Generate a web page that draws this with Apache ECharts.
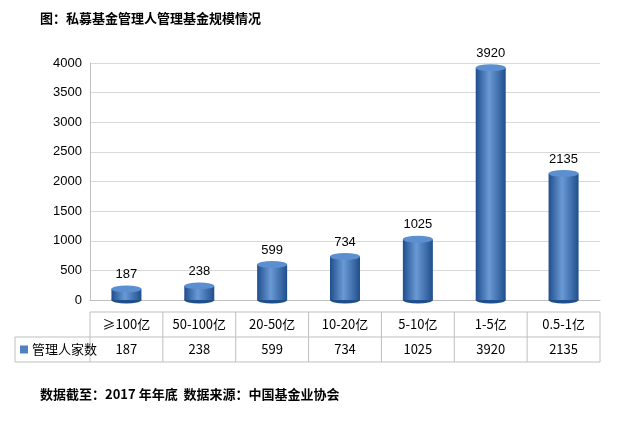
<!DOCTYPE html>
<html><head><meta charset="utf-8">
<script src="https://cdn.jsdelivr.net/npm/echarts@6/dist/echarts.min.js"></script>
<style>html,body{margin:0;padding:0;background:#fff}#c{width:640px;height:424px}</style>
</head><body><div id="c"></div>
<script>
var categories=['≥100亿','50-100亿','20-50亿','10-20亿','5-10亿','1-5亿','0.5-1亿'];
var seriesName='管理人家数';
var values=[187,238,599,734,1025,3920,2135];
var title='图：私募基金管理人管理基金规模情况';
var note='数据截至：2017 年年底  数据来源：中国基金业协会';
var chart=echarts.init(document.getElementById('c'));
var L=90,R=600,n=categories.length,cw=(R-L)/n,t1=312,t2=337,t3=362;
var g=[];
var ls={stroke:'#bfbfbf',lineWidth:1};
g.push({type:'line',shape:{x1:L,y1:t1,x2:R,y2:t1},style:ls});
g.push({type:'line',shape:{x1:15,y1:t2,x2:R,y2:t2},style:ls});
g.push({type:'line',shape:{x1:15,y1:t3,x2:R,y2:t3},style:ls});
g.push({type:'line',shape:{x1:15,y1:t2,x2:15,y2:t3},style:ls});
for(var i=0;i<=n;i++){g.push({type:'line',shape:{x1:L+i*cw,y1:t1,x2:L+i*cw,y2:t3},style:ls});}
categories.forEach(function(c,i){
 g.push({type:'text',x:L+(i+0.5)*cw,y:(t1+t2)/2,style:{text:c,align:'center',verticalAlign:'middle',font:'13px "Noto Sans CJK SC"',fill:'#000'}});
 g.push({type:'text',x:L+(i+0.5)*cw,y:(t2+t3)/2,style:{text:String(values[i]),align:'center',verticalAlign:'middle',font:'13px "Noto Sans CJK SC"',fill:'#000'}});
});
g.push({type:'rect',shape:{x:20,y:(t2+t3)/2-4,width:8,height:8},style:{fill:'#4f81bd'}});
g.push({type:'text',x:32,y:(t2+t3)/2,style:{text:seriesName,verticalAlign:'middle',font:'13px "Noto Sans CJK SC"',fill:'#000'}});
g.push({type:'text',x:40,y:12,style:{text:title,font:'bold 13px "Noto Sans CJK SC"',fill:'#000'}});
g.push({type:'text',x:40,y:388,style:{text:note,font:'bold 13px "Noto Sans CJK SC"',fill:'#000'}});
var grad=new echarts.graphic.LinearGradient(0,0,1,0,[{offset:0,color:'#1f4e8c'},{offset:0.45,color:'#6a9ad6'},{offset:1,color:'#1f4e8c'}]);
chart.setOption({
 animation:false,
 grid:{left:L,right:640-R,top:63,bottom:424-300},
 xAxis:{type:'category',data:categories,axisLabel:{show:false},axisTick:{show:false},axisLine:{lineStyle:{color:'#bfbfbf'}}},
 yAxis:{type:'value',min:0,max:4000,interval:500,axisLabel:{fontSize:13,color:'#000',formatter:function(v){return String(v);}},axisLine:{show:true,lineStyle:{color:'#bfbfbf'}},splitLine:{lineStyle:{color:'#d9d9d9'}}},
 series:[
  {type:'bar',name:seriesName,data:values,barWidth:30,itemStyle:{color:grad},label:{show:true,position:'top',distance:8,fontSize:13,color:'#000'}},
  {type:'pictorialBar',data:values,symbol:'circle',symbolSize:[30,7],symbolPosition:'end',symbolOffset:[0,'-50%'],itemStyle:{color:'#5b8fd0'},z:3},
  {type:'pictorialBar',data:values.map(function(){return 0;}),symbol:'circle',symbolSize:[30,7],symbolOffset:[0,'50%'],itemStyle:{color:'#1f4e8c'},z:1}
 ],
 graphic:g
});
</script></body></html>
